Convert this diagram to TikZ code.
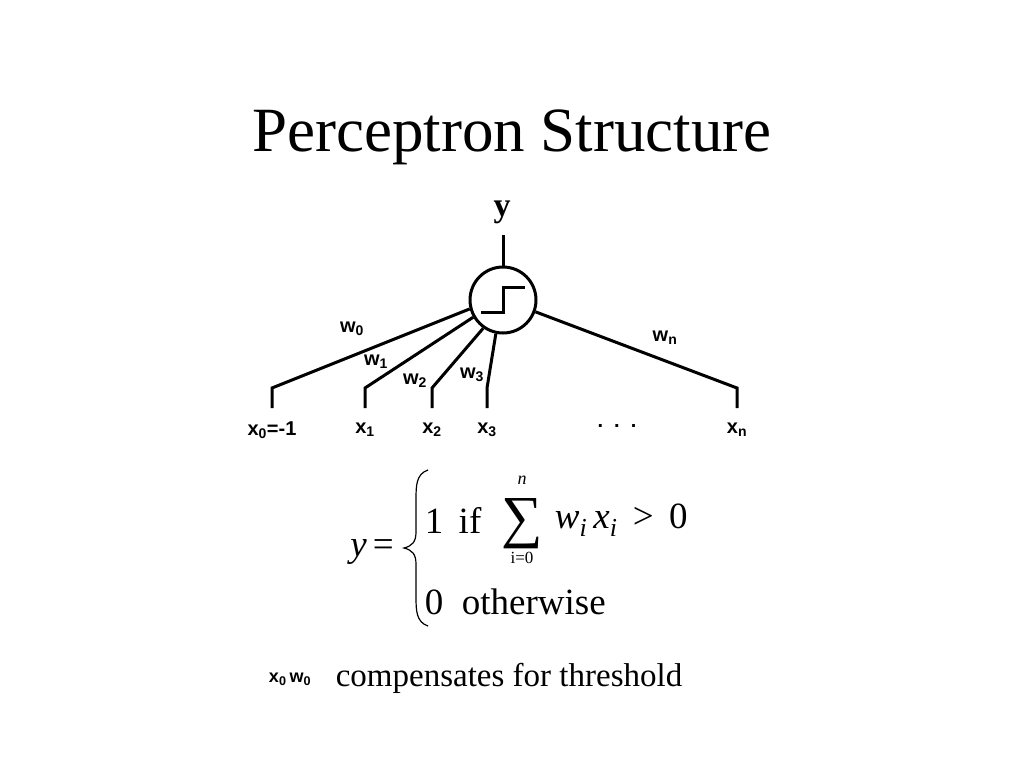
\documentclass[tikz,border=0pt]{standalone}
\usepackage{fontspec}
\setmainfont{Liberation Serif}
\newfontfamily\lblfont{Liberation Sans}

\begin{document}
\begin{tikzpicture}[x=1pt,y=-1pt,line width=3pt,
  lbl/.style={font=\lblfont\bfseries\fontsize{20}{20}\selectfont},
  eq/.style={font=\fontsize{37}{37}\selectfont},
  stem/.style={line cap=butt}]
  \useasboundingbox (0,0) rectangle (1024,768);
  \node[font=\fontsize{63}{63}\selectfont] (title) at (512,137) {Perceptron Structure};

  % neuron with step function
  \node[circle,draw,line width=3pt,minimum size=66pt,inner sep=0pt] (unit) at (503,300) {};
  \draw (481,312) -- (503,312) -- (503,287) -- (525,287);
  \node[font=\fontsize{34}{34}\selectfont\bfseries] (y) at (502,212) {y};
  \coordinate (ytop) at (503,235);
  \draw (ytop) -- (unit.north);

  % inputs
  \foreach \name/\xx/\ang/\txt in {in0/272/195/{x\textsubscript{0}=-1},in1/365/210/{x\textsubscript{1}},in2/432/235/{x\textsubscript{2}},in3/487/258/{x\textsubscript{3}},inn/737/-20/{x\textsubscript{n}}}{
    \coordinate (\name top) at (\xx,388);
    \coordinate (\name bot) at (\xx,408);
    \draw (\name bot) -- (\name top) -- (unit.\ang);
    \node[lbl] (\name lbl) at (\xx,430) {\txt};
  }
  \node[lbl] (dots) at (617,426) {.~~.~~.};
  \node[lbl] (w0) at (352,329) {w\textsubscript{0}};
  \node[lbl] (w1) at (376,362) {w\textsubscript{1}};
  \node[lbl] (w2) at (415,381) {w\textsubscript{2}};
  \node[lbl] (w3) at (472,375) {w\textsubscript{3}};
  \node[lbl] (wn) at (665,338) {w\textsubscript{n}};

  % output rule
  \node[eq] (yeq) at (372,552) {\textit{y}\,=};
  \draw[line width=1.2pt] (428,470) .. controls (416,474) and (416,486) .. (416,500)
    -- (416,532) .. controls (416,542) and (412,546) .. (404,548)
    .. controls (412,550) and (416,554) .. (416,564)
    -- (416,596) .. controls (416,610) and (416,622) .. (428,626);
  \node[eq,anchor=west] (one) at (420,520) {1\,\ if};
  \node[font=\fontsize{58}{58}\selectfont] (sum) at (522,524) {∑};
  \node[font=\fontsize{18}{18}\selectfont\itshape] (upper) at (522,480) {n};
  \node[font=\fontsize{17}{17}\selectfont] (lower) at (522,558) {i=0};
  \node[eq,anchor=west] (terms) at (550,520) {\textit{w\textsubscript{i}\,x\textsubscript{i}} \,>\, 0};
  \node[eq,anchor=west] (zero) at (420,602) {0\ \ otherwise};

  % note
  \node[font=\lblfont\bfseries\fontsize{18}{18}\selectfont] (x0w0) at (290,679) {x\textsubscript{0}\,w\textsubscript{0}};
  \node[font=\fontsize{33}{33}\selectfont,anchor=west] (note) at (331,678) {compensates for threshold};
\end{tikzpicture}
\end{document}
